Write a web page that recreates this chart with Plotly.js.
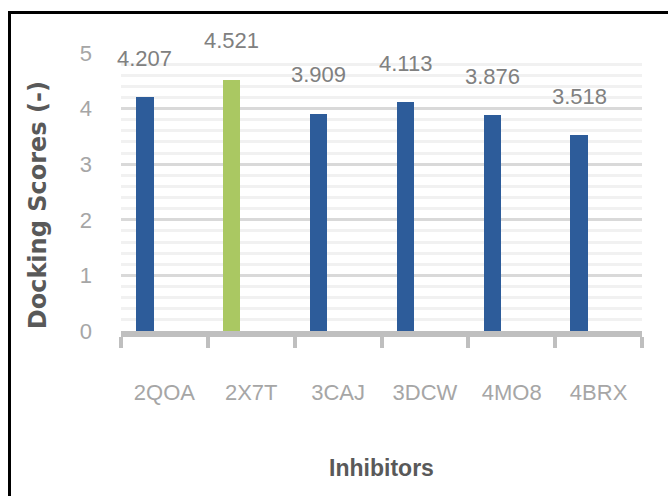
<!DOCTYPE html>
<html>
<head>
<meta charset="utf-8">
<script src="https://cdn.plot.ly/plotly-3.0.1.min.js"></script>
<style>
  html, body { margin: 0; padding: 0; background: #ffffff; }
  #wrap { position: relative; width: 668px; height: 496px; overflow: hidden; }
  #chart { position: absolute; left: 0; top: 0; width: 668px; height: 496px; }
  #frame {
    position: absolute; left: 8px; top: 11px; width: 670px; height: 500px;
    border-top: 3px solid #000; border-left: 3px solid #000;
    pointer-events: none;
  }
</style>
</head>
<body>
<div id="wrap">
  <div id="chart"></div>
  <div id="frame"></div>
</div>
<script>
// Docking scores per inhibitor
const inhibitors = ['2QOA', '2X7T', '3CAJ', '3DCW', '4MO8', '4BRX'];
const scores = [4.207, 4.521, 3.909, 4.113, 3.876, 3.518];
const yTicks = [0, 1, 2, 3, 4, 5];
const highlighted = '2X7T';

const BLUE = '#2d5c9a';
const GREEN = '#aac862';
const barColors = inhibitors.map(n => n === highlighted ? GREEN : BLUE);

const labelFont = { family: '"Liberation Sans", Arial, sans-serif', size: 22, color: '#808080' };
const tickFont = { family: '"Liberation Sans", Arial, sans-serif', size: 22, color: '#a6a6a6' };
const yTitleFont = { family: '"DejaVu Sans", sans-serif', size: 24, color: '#595959', weight: 'bold' };
const xTitleFont = { family: '"Liberation Sans", Arial, sans-serif', size: 23, color: '#595959', weight: 'bold' };

const BAR_WIDTH = 0.2;
const BAR_OFFSET = -0.325;
const CAT_PX = 86.8;
const labelShift = (BAR_OFFSET + BAR_WIDTH / 2) * CAT_PX;

const trace = {
  type: 'bar',
  x: inhibitors,
  y: scores,
  width: BAR_WIDTH,
  offset: BAR_OFFSET,
  marker: { color: barColors, line: { width: 0 } },
  hoverinfo: 'x+y',
  cliponaxis: false
};

const valueLabels = inhibitors.map((name, i) => ({
  x: name,
  y: scores[i],
  xref: 'x', yref: 'y',
  text: scores[i].toFixed(3),
  showarrow: false,
  xanchor: 'center', yanchor: 'middle',
  xshift: labelShift,
  yshift: 39,
  font: labelFont
}));

const yTitle = {
  text: 'Docking Scores (-)',
  xref: 'paper', yref: 'paper',
  x: -0.159, y: 0.453,
  xanchor: 'center', yanchor: 'middle',
  textangle: -90,
  showarrow: false,
  font: yTitleFont
};

const layout = {
  width: 668,
  height: 496,
  margin: { l: 121, r: 26, t: 53, b: 165 },
  paper_bgcolor: '#ffffff',
  plot_bgcolor: '#ffffff',
  showlegend: false,
  bargap: 0,
  xaxis: {
    type: 'category',
    range: [-0.5, inhibitors.length - 0.5],
    tickson: 'boundaries',
    ticks: 'outside',
    ticklen: 11,
    tickwidth: 4,
    tickcolor: '#bfbfbf',
    tickangle: 0,
    showline: true,
    linecolor: '#bfbfbf',
    linewidth: 6,
    showgrid: false,
    tickfont: tickFont,
    ticklabelstandoff: 37,
    title: { text: 'Inhibitors', font: xTitleFont, standoff: 57 },
    automargin: false,
    fixedrange: true
  },
  yaxis: {
    range: [0, 5],
    tickvals: yTicks,
    ticktext: yTicks.map(String),
    showline: false,
    zeroline: false,
    showgrid: true,
    gridcolor: '#d9d9d9',
    gridwidth: 3,
    minor: { dtick: 0.2, showgrid: true, gridcolor: '#f1f1f1', gridwidth: 3 },
    tickfont: tickFont,
    ticklabelstandoff: 28,
    automargin: false,
    fixedrange: true
  },
  annotations: valueLabels.concat([yTitle])
};

Plotly.newPlot('chart', [trace], layout, { displayModeBar: false, staticPlot: true });
</script>
</body>
</html>
